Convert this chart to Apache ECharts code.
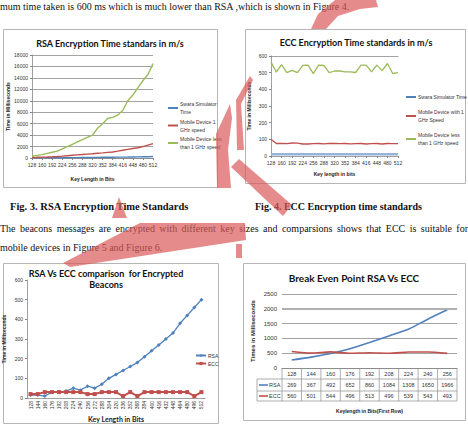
<!DOCTYPE html>
<html><head><meta charset="utf-8">
<script src="https://cdn.jsdelivr.net/npm/echarts@6/dist/echarts.min.js"></script>
<style>html,body{margin:0;padding:0;background:#fff}#c{width:468px;height:430px}</style>
</head><body><div id="c"></div>
<script>
// ---------- data ----------
const keys16 = ['128','144','160','176','192','208','224','240','256','272','288','304','320','336','352','368','384','400','416','432','448','464','480','496','512'];
// Fig 3: RSA encryption time standards
const rsaSim     = [20,25,30,35,40,45,50,55,60,70,80,90,100,110,120,130,140,150,160,170,185,200,215,230,250];
const rsaMob1    = [100,120,150,180,220,270,330,400,470,540,610,680,750,830,900,980,1060,1200,1350,1500,1650,1800,2000,2250,2500];
const rsaMobLess = [300,450,600,800,1000,1200,1600,2000,2400,2800,3200,3600,4000,5200,6000,6900,7100,7500,8300,10000,11000,12300,13500,14600,16500];
// Fig 4: ECC encryption time standards
const eccSim     = [10,10,10,10,10,10,10,10,10,10,10,10,10,10,10,10,10,10,10,10,10,10,10,10,10];
const eccMob1    = [100,75,76,74,78,77,72,72,74,75,73,76,75,74,75,73,74,75,72,74,75,72,75,74,74];
const eccMobLess = [563,504,548,500,514,500,544,545,494,545,543,500,510,510,505,505,501,545,545,505,545,512,555,495,500];
// Fig 5: RSA vs ECC for encrypted beacons
const beaconRSA  = [15,15,10,30,30,35,50,40,60,50,70,100,120,140,160,180,210,240,270,300,330,380,420,460,500];
const beaconECC  = [20,20,30,30,30,30,30,30,20,20,30,30,30,10,30,10,30,30,30,30,30,30,30,10,30];
// Fig 6: break even point
const breakKeys  = ['128','144','160','176','192','208','224','240','256'];
const breakRSA   = [269,367,492,652,860,1084,1308,1650,1966];
const breakECC   = [560,501,544,496,513,496,539,543,493];

// ---------- styles ----------
const BLUE='#4f81bd', RED='#c0504d', GREEN='#9bbb59', GRID='#8c8c8c', AX='#868686';
const SANS='Lato, "Liberation Sans", sans-serif';
const SERIF='"Liberation Serif", "DejaVu Serif", serif';
const tiny = {fontSize:5, color:'#333', fontFamily:'"Liberation Sans", sans-serif'};
const plain = v => String(v);

const chart = echarts.init(document.getElementById('c'), null, {renderer:'svg'});

function catAxis(gi, data, extra){
  return Object.assign({type:'category', gridIndex:gi, data:data, boundaryGap:false,
    axisLine:{lineStyle:{color:AX, width:0.8}}, axisTick:{show:true, length:2, lineStyle:{color:AX}},
    axisLabel:Object.assign({margin:4, interval:1}, tiny), splitLine:{show:false}}, extra||{});
}
function valAxis(gi, max, interval, extra){
  return Object.assign({type:'value', gridIndex:gi, min:0, max:max, interval:interval,
    axisLine:{show:true, lineStyle:{color:AX, width:0.8}}, axisTick:{show:true, length:2, lineStyle:{color:AX}},
    axisLabel:Object.assign({margin:4, formatter:plain}, tiny), splitLine:{show:true, lineStyle:{color:GRID, width:0.8}}}, extra||{});
}
const axName = {fontSize:5, fontWeight:'bold', color:'#222', fontFamily:'"Liberation Sans", sans-serif'};

const legendNames1 = {'Swara Simulator Time':'Swara Simulator\nTime','Mobile Device 1 GHz speed':'Mobile Device 1\nGHz speed','Mobile Device less than 1 GHz speed':'Mobile Device less\nthan 1 GHz speed'};
const legendNames2 = {'Swara Simulator Time ':'Swara Simulator Time','Mobile Device with 1 GHz Speed':'Mobile Device with 1\nGHz Speed','Mobile Device less than 1 GHz speed ':'Mobile Device less\nthan 1 GHz speed'};

const option = {
  backgroundColor:'#ffffff',
  animation:false,
  grid:[
    {left:32, top:55, width:121, height:103},
    {left:271, top:56, width:127, height:100},
    {left:27, top:280, width:178, height:118},
    {left:282, top:294, width:175, height:74}
  ],
  xAxis:[
    catAxis(0, keys16, {name:'Key Length in Bits', nameLocation:'middle', nameGap:18, nameTextStyle:axName}),
    catAxis(1, keys16, {name:'Key length in bits', nameLocation:'middle', nameGap:15, nameTextStyle:axName}),
    catAxis(2, keys16, {boundaryGap:true, axisTick:{show:false}, axisLabel:Object.assign({margin:3, interval:0, rotate:90}, tiny),
       name:'Key Length in Bits', nameLocation:'middle', nameGap:17, nameTextStyle:{fontSize:7, fontWeight:'bold', color:'#222', fontFamily:SANS}}),
    {type:'category', gridIndex:3, data:breakKeys, boundaryGap:true,
       axisLine:{lineStyle:{color:AX, width:0.8}}, axisTick:{show:false}, axisLabel:{show:false},
       name:'Keylength in Bits(First Row)', nameLocation:'middle', nameGap:40, nameTextStyle:axName},
    {type:'category', gridIndex:1, position:'top', data:keys16, axisLine:{show:true, lineStyle:{color:GRID, width:0.8}}, axisTick:{show:false}, axisLabel:{show:false}}
  ],
  yAxis:[
    valAxis(0, 18000, 2000, {name:'Time in Milliseconds', nameLocation:'middle', nameGap:22, nameTextStyle:axName}),
    valAxis(1, 600, 100, {splitLine:{show:false}, name:'Time in Milliseconds', nameLocation:'middle', nameGap:20, nameTextStyle:axName}),
    valAxis(2, 600, 100, {splitLine:{show:false}, name:'Time in Milliseconds', nameLocation:'middle', nameGap:21, nameTextStyle:axName}),
    valAxis(3, 2500, 500, {axisLine:{show:false}, axisTick:{show:false}, axisLabel:Object.assign({margin:5, formatter:plain}, tiny, {fontSize:6}),
       name:'Times in Milliseconds', nameLocation:'middle', nameGap:26, nameTextStyle:Object.assign({}, axName, {fontSize:6})})
  ],
  legend:[
    {orient:'vertical', left:163, top:95, itemWidth:10, itemHeight:2, icon:'rect', itemGap:1.5,
     data:['Swara Simulator Time','Mobile Device 1 GHz speed','Mobile Device less than 1 GHz speed'],
     formatter:n=>legendNames1[n], textStyle:Object.assign({lineHeight:8, padding:[0,0,0,-3]}, tiny)},
    {orient:'vertical', left:401, top:88, itemWidth:10, itemHeight:2, icon:'rect', itemGap:7,
     data:['Swara Simulator Time ','Mobile Device with 1 GHz Speed','Mobile Device less than 1 GHz speed '],
     formatter:n=>legendNames2[n], textStyle:Object.assign({lineHeight:8, padding:[0,0,0,-3]}, tiny)},
    {orient:'vertical', left:190, top:348, itemWidth:10, itemHeight:4, itemGap:3,
     data:['RSA','ECC'], textStyle:Object.assign({padding:[0,0,0,-3]}, tiny)}
  ],
  series:[
    {type:'line', name:'Swara Simulator Time', xAxisIndex:0, yAxisIndex:0, data:rsaSim, showSymbol:false, lineStyle:{color:BLUE, width:1.4}, itemStyle:{color:BLUE}},
    {type:'line', name:'Mobile Device 1 GHz speed', xAxisIndex:0, yAxisIndex:0, data:rsaMob1, showSymbol:false, lineStyle:{color:RED, width:1.4}, itemStyle:{color:RED}},
    {type:'line', name:'Mobile Device less than 1 GHz speed', xAxisIndex:0, yAxisIndex:0, data:rsaMobLess, showSymbol:false, lineStyle:{color:GREEN, width:1.4}, itemStyle:{color:GREEN}},

    {type:'line', name:'Swara Simulator Time ', xAxisIndex:1, yAxisIndex:1, data:eccSim, showSymbol:false, lineStyle:{color:'#95b3d7', width:2.5}, itemStyle:{color:BLUE}},
    {type:'line', name:'Mobile Device with 1 GHz Speed', xAxisIndex:1, yAxisIndex:1, data:eccMob1, showSymbol:false, lineStyle:{color:RED, width:1.3}, itemStyle:{color:RED}},
    {type:'line', name:'Mobile Device less than 1 GHz speed ', xAxisIndex:1, yAxisIndex:1, data:eccMobLess, showSymbol:false, lineStyle:{color:GREEN, width:1.3}, itemStyle:{color:GREEN}},

    {type:'line', name:'RSA', xAxisIndex:2, yAxisIndex:2, data:beaconRSA, symbol:'diamond', symbolSize:4, lineStyle:{color:BLUE, width:1.3}, itemStyle:{color:BLUE}},
    {type:'line', name:'ECC', xAxisIndex:2, yAxisIndex:2, data:beaconECC, symbol:'rect', symbolSize:4, lineStyle:{color:RED, width:2}, itemStyle:{color:RED}},

    {type:'line', name:'RSA6', xAxisIndex:3, yAxisIndex:3, data:breakRSA, showSymbol:false, smooth:0.2, lineStyle:{color:BLUE, width:1.6}, itemStyle:{color:BLUE},
     markLine:{silent:true, symbol:'none', label:{show:false}, lineStyle:{color:'#b0b0b0', width:2, type:'solid'}, data:[{yAxis:2000}]}},
    {type:'line', name:'ECC6', xAxisIndex:3, yAxisIndex:3, data:breakECC, showSymbol:false, smooth:0.2, lineStyle:{color:RED, width:1.6}, itemStyle:{color:RED}}
  ]
};
chart.setOption(option);

// ---------- page text, frames, data table, watermark ----------
function txt(x, y, s, style){
  return {type:'text', x:x, y:y, silent:true, style:Object.assign({text:s, fill:'#111', font:'10px '+SERIF, textVerticalAlign:'middle'}, style||{})};
}
function rect(x,y,w,h){ return {type:'rect', silent:true, z:-1, shape:{x:x,y:y,width:w,height:h}, style:{fill:'none', stroke:'#b5b5b5', lineWidth:1}}; }
function line(x1,y1,x2,y2,c){ return {type:'line', silent:true, shape:{x1:x1,y1:y1,x2:x2,y2:y2}, style:{stroke:c||'#9a9a9a', lineWidth:0.8}}; }
// justified paragraph line: words spread between x0 and x1
const mctx = document.createElement('canvas').getContext('2d');
function justified(x0, x1, y, s, font){
  mctx.font = font;
  const words = s.split(' ');
  const widths = words.map(w=>mctx.measureText(w).width);
  const total = widths.reduce((a,b)=>a+b,0);
  const gap = (x1-x0-total)/(words.length-1);
  let x = x0; const out=[];
  words.forEach((w,i)=>{ out.push(txt(x,y,w,{font:font})); x += widths[i]+gap; });
  return out;
}

const els = [];
// chart frames
els.push(rect(3.5,29.5,214,158));
els.push(rect(245.5,29.5,220,154));
els.push(rect(3.5,263.5,215,160));
els.push(rect(243.5,263.5,222,157));
// chart titles
els.push(txt(110,43,'RSA Encryption Time standars in m/s',{font:'bold 9px '+SANS, textAlign:'center'}));
els.push(txt(356,42,'ECC Encryption Time standards in m/s',{font:'bold 9px '+SANS, textAlign:'center'}));
els.push(txt(106,273,'RSA Vs ECC comparison  for Encrypted',{font:'bold 9px '+SANS, textAlign:'center'}));
els.push(txt(106,284,'Beacons',{font:'bold 9px '+SANS, textAlign:'center'}));
els.push(txt(354,278,'Break Even Point RSA Vs ECC',{font:'bold 10px '+SANS, textAlign:'center'}));
// page text
els.push(txt(0,6,'mum time taken is 600 ms which is much lower than RSA ,which is shown in Figure 4.',{font:'10px '+SERIF}));
els.push(txt(10,206,'Fig. 3. RSA Encryption Time Standards',{font:'bold 10.5px '+SERIF}));
els.push(txt(255,206,'Fig. 4. ECC Encryption time standards',{font:'bold 10px '+SERIF}));
justified(0,468,228,'The beacons messages are encrypted with different key sizes and comparsions shows that ECC is suitable for','10px '+SERIF).forEach(e=>els.push(e));
els.push(txt(0,247,'mobile devices in Figure 5 and Figure 6.',{font:'10px '+SERIF}));

// data table for Fig 6 (positions taken from the chart's own axes)
const colW = 175/breakKeys.length;
const tTop=368, r1=379, r2=391, tBot=401, tLeft=257, pRight=457;
els.push(line(tLeft, r1, pRight, r1));
els.push(line(tLeft, r2, pRight, r2));
els.push(line(tLeft, tBot, pRight, tBot));
els.push(line(tLeft, r1, tLeft, tBot));
for(let i=0;i<=breakKeys.length;i++){
  const x = i<breakKeys.length ? chart.convertToPixel({xAxisIndex:3}, breakKeys[i]) - colW/2 : pRight;
  els.push(line(x, tTop, x, tBot));
}
const tf = '5.5px "Liberation Sans", sans-serif';
breakKeys.forEach((k,i)=>{
  const cx = chart.convertToPixel({xAxisIndex:3}, k);
  els.push(txt(cx,373.5,k,{font:tf, textAlign:'center', fill:'#333'}));
  els.push(txt(cx,385,String(breakRSA[i]),{font:tf, textAlign:'center', fill:'#333'}));
  els.push(txt(cx,396,String(breakECC[i]),{font:tf, textAlign:'center', fill:'#333'}));
});
els.push(line(259,385,268,385,BLUE)); els[els.length-1].style.lineWidth=1.6;
els.push(line(259,396,268,396,RED)); els[els.length-1].style.lineWidth=1.6;
els.push(txt(269,385,'RSA',{font:tf, fill:'#333'}));
els.push(txt(269,396,'ECC',{font:tf, fill:'#333'}));

// watermark (semi-transparent red arrow strokes over the page)
const WM = 'rgba(220,90,90,0.7)';
function poly(pts){ return {type:'polygon', silent:true, z:100, shape:{points:pts}, style:{fill:WM}}; }
els.push(poly([[311,29],[326,29],[338,16],[360,9],[378,7],[376,0],[335,0],[318,14]]));
els.push(poly([[230,104],[216,134],[217,188],[231,188],[228,150],[232,118]]));
els.push(poly([[250,76],[236,100],[237,150],[244,150],[241,104],[253,80]]));
els.push(poly([[231,167],[239,159],[292,205],[283,216]]));
els.push(poly([[112,218],[119,197],[127,218]]));
els.push(poly([[140,223],[245,223],[246,240],[70,267],[63,263]]));
els.push(poly([[236,244],[242,244],[242,258],[236,258]]));

chart.setOption({graphic:{elements:els}});
</script></body></html>
